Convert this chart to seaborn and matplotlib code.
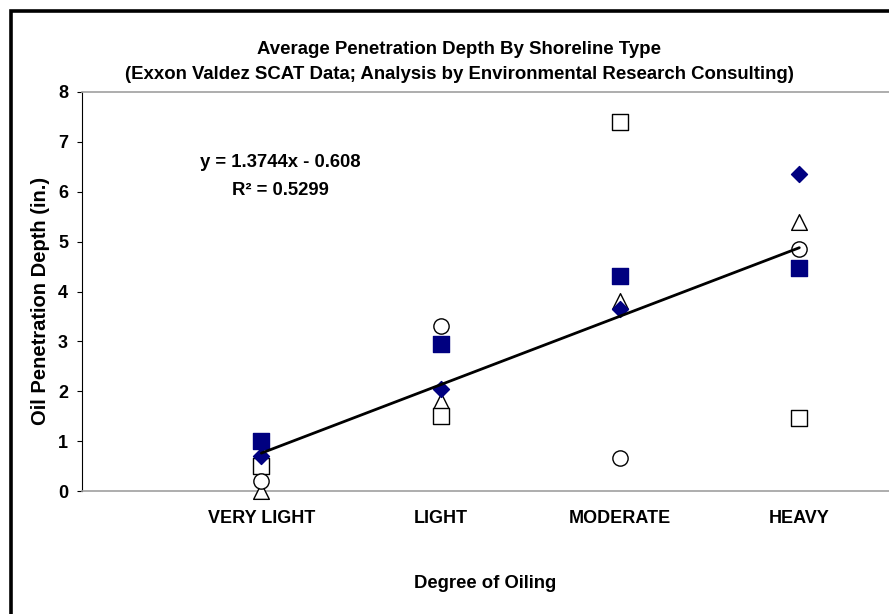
import numpy as np
import pandas as pd
import matplotlib
matplotlib.use("Agg")
import matplotlib.pyplot as plt
from matplotlib.patches import Rectangle
import seaborn as sns

# ---------------- data ----------------
categories = ["VERY LIGHT", "LIGHT", "MODERATE", "HEAVY"]

series_names = ["Shoreline type A", "Shoreline type B", "Shoreline type C",
                "Shoreline type D", "Shoreline type E"]
open_triangle = [0.00, 1.80, 3.80, 5.40]
open_square = [0.50, 1.50, 7.40, 1.46]
open_circle = [0.20, 3.31, 0.67, 4.85]
filled_square = [1.00, 2.94, 4.31, 4.47]
filled_diamond = [0.70, 2.05, 3.65, 6.36]

y_ticks = [0, 1, 2, 3, 4, 5, 6, 7, 8]

title_text = ("Average Penetration Depth By Shoreline Type\n"
              "(Exxon Valdez SCAT Data; Analysis by Environmental Research Consulting)")
x_label = "Degree of Oiling"
y_label = "Oil Penetration Depth (in.)"
equation_text = "y = 1.3744x - 0.608"
r2_text = "R² = 0.5299"

# ---------------- build table ----------------
series_values = [open_triangle, open_square, open_circle, filled_square, filled_diamond]
rows = []
for name, vals in zip(series_names, series_values):
    for i, v in enumerate(vals):
        rows.append({"series": name, "category": categories[i],
                     "position": i + 1, "depth": v})
df = pd.DataFrame(rows)

# ---------------- style ----------------
sns.set_style("white")
plt.rcParams["font.family"] = ["Liberation Sans", "DejaVu Sans"]
plt.rcParams["font.weight"] = "bold"
plt.rcParams["text.color"] = "black"
plt.rcParams["axes.labelcolor"] = "black"
plt.rcParams["xtick.color"] = "black"
plt.rcParams["ytick.color"] = "black"

NAVY = "#000080"
styles = {
    series_names[0]: dict(marker="^", s=128, color="white", edgecolor="black"),
    series_names[1]: dict(marker="s", s=125, color="white", edgecolor="black"),
    series_names[2]: dict(marker="o", s=121, color="white", edgecolor="black"),
    series_names[3]: dict(marker="s", s=130, color=NAVY, edgecolor=NAVY),
    series_names[4]: dict(marker="D", s=66, color=NAVY, edgecolor=NAVY),
}

fig = plt.figure(figsize=(8.89, 6.14), dpi=100)
ax = fig.add_axes([82 / 889, 123 / 614, 807 / 889, 399 / 614])

for z, name in enumerate(series_names):
    st = styles[name]
    sub = df[df["series"] == name]
    sns.scatterplot(data=sub, x="position", y="depth", ax=ax, legend=False,
                    marker=st["marker"], s=st["s"], color=st["color"],
                    edgecolor=st["edgecolor"], linewidth=1.0,
                    zorder=3 + z, clip_on=False)

sns.regplot(data=df, x="position", y="depth", ax=ax, scatter=False, ci=None,
            truncate=True, color="black", line_kws={"linewidth": 2.0, "zorder": 10})

ax.set_xlim(0, 4.5)
ax.set_ylim(0, 8)
ax.set_xticks(range(1, len(categories) + 1))
ax.set_xticklabels(categories, fontsize=13, fontweight="bold")
ax.set_yticks(y_ticks)
ax.set_yticklabels([str(t) for t in y_ticks], fontsize=13, fontweight="bold")
ax.tick_params(axis="x", length=0, pad=14)
ax.tick_params(axis="y", length=3.6, width=0.8, color="black", pad=6.5, left=True)

for side in ["top", "bottom"]:
    ax.spines[side].set_color("#a0a0a0")
    ax.spines[side].set_linewidth(1.2)
ax.spines["left"].set_color("black")
ax.spines["left"].set_linewidth(0.8)
ax.spines["right"].set_visible(False)

ax.set_xlabel(x_label, fontsize=13.3, fontweight="bold", va="center")
ax.xaxis.set_label_coords(0.5, (491 - 583) / 399)
ax.set_ylabel(y_label, fontsize=14.5, fontweight="bold", va="center")
ax.yaxis.set_label_coords((40.5 - 82) / 807, (491 - 301) / 399)

ax.set_title(title_text, fontsize=13.4, fontweight="bold", x=(459 - 82) / 807,
             y=(491 - 70) / 399, va="center", linespacing=1.6)

ax.text(1.107, 6.58, equation_text, ha="center", va="center", fontsize=13.3,
        fontweight="bold", zorder=11)
ax.text(1.107, 6.03, r2_text, ha="center", va="center", fontsize=13.3,
        fontweight="bold", zorder=11)

# outer chart border (extends beyond right/bottom edges as in reference)
border = Rectangle((11 / 889, -0.1), 1.2, 1.1 - 11 / 614, transform=fig.transFigure,
                   fill=False, edgecolor="black", linewidth=2.6, clip_on=False)
fig.add_artist(border)

fig.savefig("out.png", dpi=100)
